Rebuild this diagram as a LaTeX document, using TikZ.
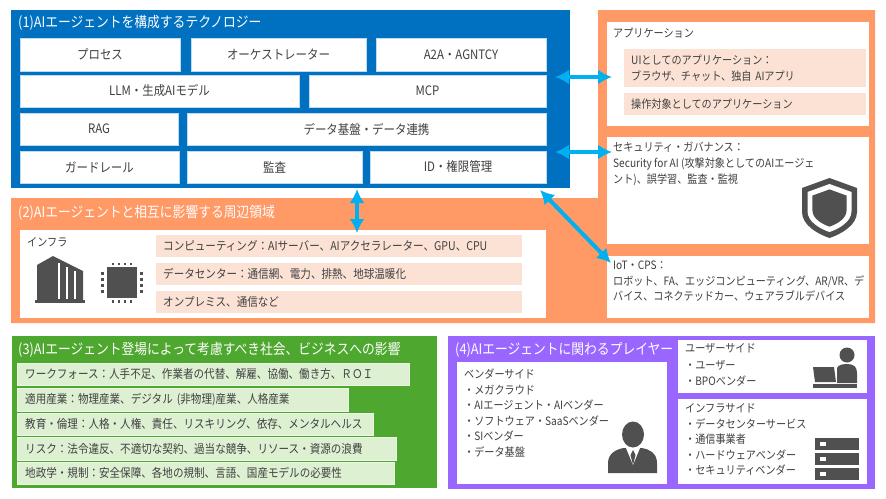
\documentclass[tikz,border=0pt]{standalone}
\usepackage{fontspec}
\setmainfont{Noto Sans CJK JP}[FakeStretch=0.88]
\usetikzlibrary{arrows.meta}

\definecolor{techblue}{HTML}{0070C0}
\definecolor{periorange}{HTML}{FF9966}
\definecolor{peach}{HTML}{FBE2D5}
\definecolor{impgreen}{HTML}{4EA72E}
\definecolor{mint}{HTML}{DDF0D2}
\definecolor{playpurple}{HTML}{9966FF}
\definecolor{arrowblue}{HTML}{00B0F0}
\definecolor{txt}{HTML}{404040}
\definecolor{icon}{HTML}{505050}

\tikzset{
	ttl/.style={anchor=west, inner sep=0pt, text=white, font=\fontsize{14.5}{18}\selectfont},
	tile/.style={fill=white, draw=techblue!25, line width=0.6pt, text=txt, inner sep=0pt, font=\fontsize{13}{15}\selectfont},
	lbl/.style={anchor=west, inner sep=0pt, text=txt, font=\fontsize{11.5}{14}\selectfont},
	row/.style={anchor=north west, fill=peach, inner xsep=7pt, inner ysep=0pt, align=left, text=txt, font=\fontsize{12}{16}\selectfont},
	mintrow/.style={row, fill=mint, draw=mint!60!white, inner xsep=8pt, font=\fontsize{12}{16}\selectfont},
	para/.style={anchor=north west, inner sep=0pt, align=left, text=txt, font=\fontsize{11.5}{15.6}\selectfont},
	biarrow/.style={draw=arrowblue, line width=4pt, {Latex[length=14pt,width=15pt]}-{Latex[length=14pt,width=15pt]}},
}

\begin{document}
\begin{tikzpicture}[x=1pt, y=-1pt]
			%%%%% START %%%%%
			\useasboundingbox (0,0) rectangle (886,498);
			
			% (1) technology
			\fill[techblue] (11,10) rectangle (570,188);
			\node[ttl] (techttl) at (18,23) {(1)AIエージェントを構成するテクノロジー};
			
			\node[tile, minimum width=160pt, minimum height=33pt] (proc) at (100,54.5) {プロセス};
			\node[tile, minimum width=175pt, minimum height=33pt] (orch) at (278.5,54.5) {オーケストレーター};
			\node[tile, minimum width=170pt, minimum height=33pt] (atoa) at (461,54.5) {A2A・AGNTCY};
			\node[tile, minimum width=279pt, minimum height=32pt] (llm) at (159.5,91) {LLM・生成AIモデル};
			\node[tile, minimum width=237pt, minimum height=32pt] (mcp) at (427.5,91) {MCP};
			\node[tile, minimum width=158pt, minimum height=32pt] (rag) at (99,129) {RAG};
			\node[tile, minimum width=359pt, minimum height=32pt] (dataflow) at (366.5,129) {データ基盤・データ連携};
			\node[tile, minimum width=159pt, minimum height=32pt] (guard) at (99.5,167) {ガードレール};
			\node[tile, minimum width=175pt, minimum height=32pt] (audit) at (274.5,167) {監査};
			\node[tile, minimum width=176pt, minimum height=32pt] (idm) at (458,167) {ID・権限管理};
			
			% (2) surrounding fields
			\fill[periorange] (598,10) -- (875,10) -- (875,323) -- (11,323) -- (11,198) -- (598,198) -- cycle;
			\node[ttl] (perittl) at (18,213) {(2)AIエージェントと相互に影響する周辺領域};
			
			\fill[white] (20,230) rectangle (546,318);
			\node[lbl] (infralbl) at (27,242) {インフラ};
			\node[row, text width=352pt, minimum height=22pt] (compute) at (156,235) {コンピューティング：AIサーバー、AIアクセラレーター、GPU、CPU};
			\node[row, text width=352pt, minimum height=22pt] (dcenter) at (156,263) {データセンター：通信網、電力、排熱、地球温暖化};
			\node[row, text width=352pt, minimum height=22pt] (onprem) at (156,291) {オンプレミス、通信など};
			
			% building
			\fill[icon] (37,265) -- (53,256) -- (83,271) -- (83,300) -- (37,300) -- cycle;
			\fill[icon] (35,300) rectangle (85,303);
			\draw[white, line width=2pt] (58.5,263) -- (58.5,299);
			\draw[white, line width=2pt] (66.5,267) -- (66.5,299);
			\draw[white, line width=2pt] (74.5,271) -- (74.5,299);
			% chip
			\fill[icon] (107,267) rectangle (137,298);
			\foreach \p in {0,...,3}{
				\fill[icon] (111.5+\p*6,262.5) rectangle (114+\p*6,265);
				\fill[icon] (111.5+\p*6,300) rectangle (114+\p*6,302.5);
				\fill[icon] (101,272+\p*6) rectangle (104,274.5+\p*6);
				\fill[icon] (140,272+\p*6) rectangle (143,274.5+\p*6);
			}
			
			% right column
			\fill[white] (607,22) rectangle (869,126);
			\node[lbl] (applbl) at (613,33) {アプリケーション};
			\node[row, text width=228pt, minimum height=38pt, font=\fontsize{11.5}{16}\selectfont] (uiapp) at (624,49) {UIとしてのアプリケーション：\\ブラウザ、チャット、独自 AIアプリ};
			\node[row, text width=228pt, minimum height=22pt, font=\fontsize{11.5}{16}\selectfont] (opapp) at (624,93) {操作対象としてのアプリケーション};
			
			\fill[white] (607,137) rectangle (869,244);
			\node[para, font=\fontsize{11.5}{16}\selectfont] (sectxt) at (613,142) {セキュリティ・ガバナンス：\\Security for AI (攻撃対象としてのAIエージェ\\ント)、誤学習、監査・監視};
			\begin{scope}[shift={(829.5,208)}]
				\foreach \s/\c in {1/icon,0.8/white,0.62/icon}
					\fill[\c, scale=\s] (-27.5,-20) -- (0,-30) -- (27.5,-20) -- (27.5,4) .. controls (27.5,17) and (12,26) .. (0,30) .. controls (-12,26) and (-27.5,17) .. (-27.5,4) -- cycle;
			\end{scope}
			
			\fill[white] (607,256) rectangle (869,318);
			\node[para] (iottxt) at (613,261) {IoT・CPS：\\ロボット、FA、エッジコンピューティング、AR/VR、デ\\バイス、コネクテッドカー、ウェアラブルデバイス};
			
			% (3) impact
			\fill[impgreen] (12,336) rectangle (437,488);
			\node[ttl] (impttl) at (18,350) {(3)AIエージェント登場によって考慮すべき社会、ビジネスへの影響};
			\node[mintrow, text width=376pt, minimum height=22pt] (workforce) at (17,363) {ワークフォース：人手不足、作業者の代替、解雇、協働、働き方、ＲＯＩ};
			\node[mintrow, text width=315pt, minimum height=23pt] (industry) at (17,388) {適用産業：物理産業、デジタル (非物理)産業、人格産業};
			\node[mintrow, text width=340pt, minimum height=22pt] (ethics) at (17,413) {教育・倫理：人格・人権、責任、リスキリング、依存、メンタルヘルス};
			\node[mintrow, text width=363pt, minimum height=23pt] (risk) at (17,437) {リスク：法令違反、不適切な契約、過当な競争、リソース・資源の浪費};
			\node[mintrow, text width=361pt, minimum height=22pt] (geopol) at (17,462) {地政学・規制：安全保障、各地の規制、言語、国産モデルの必要性};
			
			% (4) players
			\fill[playpurple] (448,336) rectangle (875,489);
			\node[ttl] (playttl) at (455,350) {(4)AIエージェントに関わるプレイヤー};
			
			\fill[white] (457,362) rectangle (667,484);
			\node[para] (vendor) at (464,368.5) {ベンダーサイド\\・メガクラウド\\・AIエージェント・AIベンダー\\・ソフトウェア・SaaSベンダー\\・SIベンダー\\・データ基盤};
			% person
			\fill[icon] (608,473) -- (608,463) .. controls (608,453) and (617,449) .. (624,448) -- (642,448) .. controls (649,449) and (657,453) .. (657,463) -- (657,473) -- cycle;
			\fill[white] (626,448) -- (640,448) -- (633,465) -- cycle;
			\fill[icon] (633,450) -- (635.5,455) -- (633,465) -- (630.5,455) -- cycle;
			\fill[icon] (633,434.5) ellipse (11 and 13);
			
			\fill[white] (678,340) rectangle (867,393);
			\node[para, font=\fontsize{11.5}{16.5}\selectfont] (userside) at (685,343.5) {ユーザーサイド\\・ユーザー\\・BPOベンダー};
			% user with laptop
			\fill[icon] (847,355) circle (7.5);
			\fill[icon] (836,383) -- (836,372) .. controls (836,366) and (840,364) .. (847,364) .. controls (854,364) and (857,367) .. (857,373) -- (857,383) -- cycle;
			\fill[white] (832,366) rectangle (837,383);
			\fill[icon] (813,367) -- (834,367) -- (836,382) -- (815,382) -- cycle;
			\fill[icon] (813,383.5) rectangle (857,388);
			
			\fill[white] (678,399) rectangle (867,484);
			\node[para, font=\fontsize{11.5}{15.5}\selectfont] (infraside) at (685,403.5) {インフラサイド\\・データセンターサービス\\・通信事業者\\・ハードウェアベンダー\\・セキュリティベンダー};
			% server
			\foreach \t in {438,453,468}{
				\fill[icon] (815,\t) rectangle (859,\t+11.5);
				\fill[white] (820,\t+3.5) rectangle (825.5,\t+8);
			}
			
			% arrows
			\coordinate (appL) at (555,77);
			\coordinate (appR) at (612,77);
			\coordinate (secL) at (555,152);
			\coordinate (secR) at (612,152);
			\coordinate (techB) at (357,189);
			\coordinate (infraT) at (357,233);
			\coordinate (techC) at (540,190);
			\coordinate (iotC) at (611,263);
			\draw[biarrow] (appL) -- (appR);
			\draw[biarrow] (secL) -- (secR);
			\draw[biarrow] (techB) -- (infraT);
			\draw[biarrow] (techC) -- (iotC);
			
			%%%%% END %%%%%
\end{tikzpicture}
\end{document}
